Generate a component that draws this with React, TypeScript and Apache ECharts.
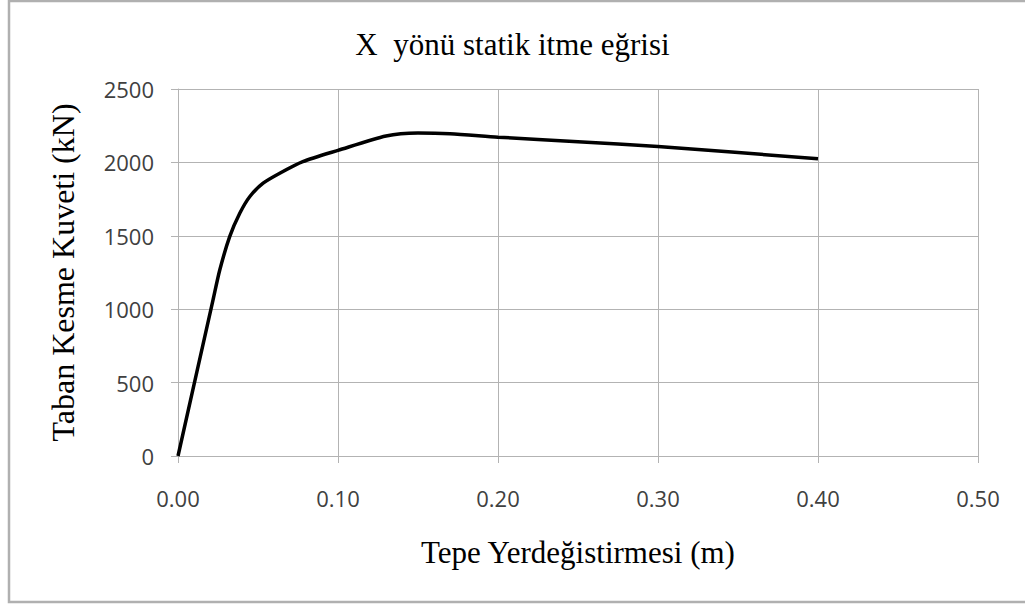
import React, { useEffect, useRef } from "react";
import * as echarts from "echarts";

const titleText = "X  yönü statik itme eğrisi";
const xAxisName = "Tepe Yerdeğistirmesi (m)";
const yAxisName = "Taban Kesme Kuveti (kN)";

const displacement = [0, 0.0219, 0.0261, 0.0323, 0.0386, 0.0448, 0.0532, 0.0636, 0.078, 0.1, 0.13, 0.15, 0.17, 0.2, 0.25, 0.3, 0.4];
const baseShear = [0, 1063, 1267, 1494, 1653, 1766, 1858, 1926, 2005, 2082, 2180, 2200, 2195, 2172, 2140, 2108, 2025];

const xTicks = { min: 0, max: 0.5, interval: 0.1 };
const yTicks = { min: 0, max: 2500, interval: 500 };

export default function App() {
  const ref = useRef<HTMLDivElement>(null);
  useEffect(() => {
    if (!ref.current) return;
    const chart = echarts.init(ref.current, null, { renderer: "svg" });
    const grid = "#b3b3b3";
    const serif = "'Liberation Serif', 'Times New Roman', serif";
    chart.setOption({
      animation: false,
      backgroundColor: "#ffffff",
      title: {
        text: titleText,
        left: "center",
        top: 24,
        textStyle: { fontFamily: serif, fontSize: 31, fontWeight: "normal", color: "#000" },
      },
      grid: { left: 178, top: 89, right: 47, bottom: 150 },
      xAxis: {
        type: "value",
        min: xTicks.min,
        max: xTicks.max,
        interval: xTicks.interval,
        name: xAxisName,
        nameLocation: "middle",
        nameGap: 81,
        nameTextStyle: { fontFamily: serif, fontSize: 31, color: "#000" },
        axisLine: { show: true, lineStyle: { color: grid, width: 1 } },
        axisTick: { show: true, length: 7, lineStyle: { color: grid } },
        splitLine: { show: true, lineStyle: { color: grid, width: 1 } },
        axisLabel: {
          margin: 31,
          fontFamily: "'Open Sans', sans-serif",
          fontSize: 22,
          color: "#404040",
          formatter: (v: number) => v.toFixed(2),
        },
      },
      yAxis: {
        type: "value",
        min: yTicks.min,
        max: yTicks.max,
        interval: yTicks.interval,
        name: yAxisName,
        nameLocation: "middle",
        nameGap: 99,
        nameTextStyle: { fontFamily: serif, fontSize: 32, color: "#000" },
        axisLine: { show: true, lineStyle: { color: grid, width: 1 } },
        axisTick: { show: true, length: 7, lineStyle: { color: grid } },
        splitLine: { show: true, lineStyle: { color: grid, width: 1 } },
        axisLabel: {
          margin: 24,
          fontFamily: "'Open Sans', sans-serif",
          fontSize: 22,
          color: "#404040",
          formatter: (v: number) => String(v),
        },
      },
      graphic: [
        {
          type: "rect",
          shape: { x: 9, y: 1, width: 1030, height: 601 },
          style: { fill: "none", stroke: "#b0b0b0", lineWidth: 2.5 },
          silent: true,
        },
      ],
      series: [
        {
          type: "line",
          data: displacement.map((x, i) => [x, baseShear[i]]),
          showSymbol: false,
          smooth: 0.25,
          lineStyle: { color: "#000", width: 3.5 },
        },
      ],
    });
    return () => chart.dispose();
  }, []);
  return (
    <div
      ref={ref}
      style={{ position: "absolute", left: 0, top: 0, width: 1025, height: 606, background: "#fff" }}
    />
  );
}
